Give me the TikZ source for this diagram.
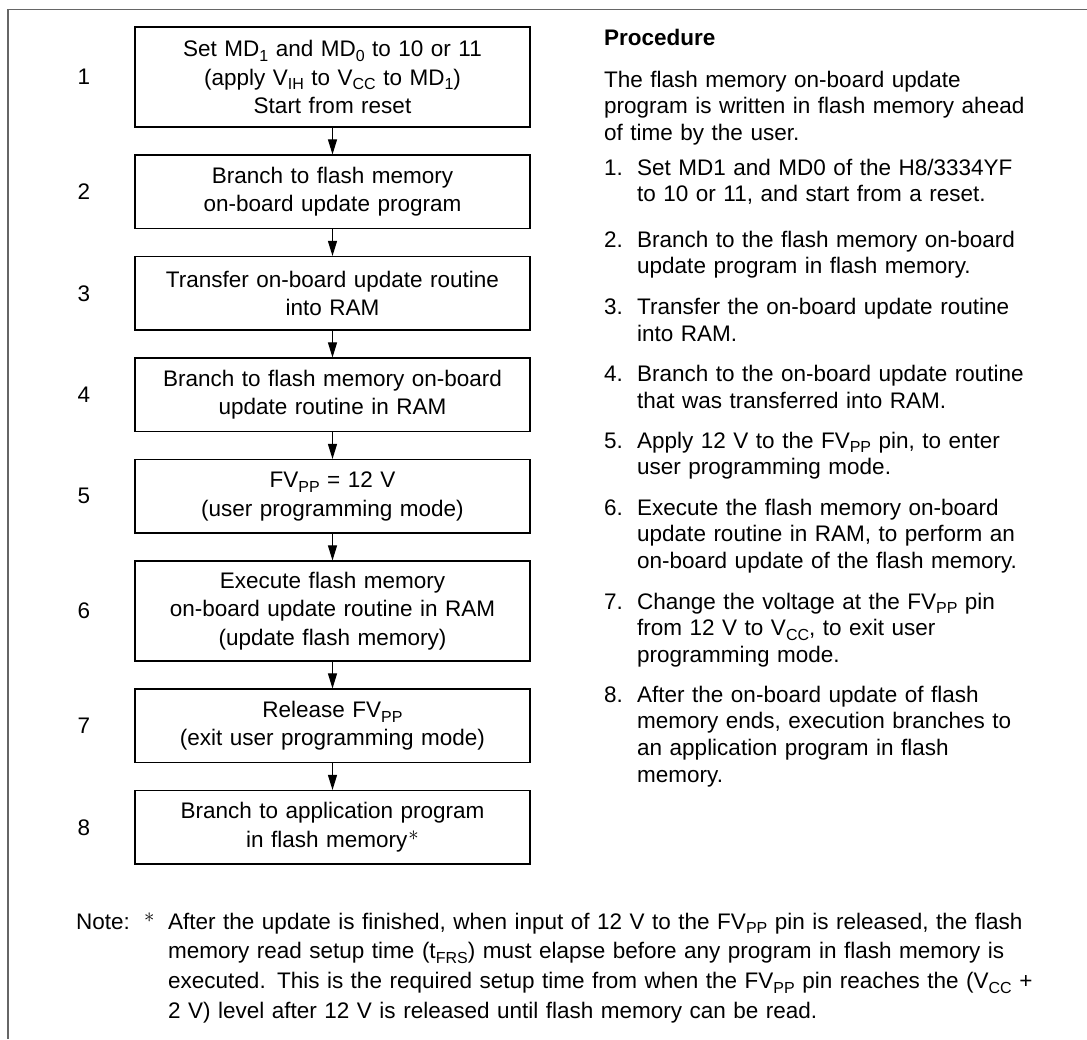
\documentclass[tikz,border=0pt]{standalone}
\usepackage{fontspec}
\setmainfont{Liberation Sans}
\usetikzlibrary{arrows.meta}
\newcommand\sbx[1]{\raisebox{-0.22em}{\fontsize{16}{16}\selectfont #1}}
\newcommand\starsup{\raisebox{6.5pt}{\fontsize{21}{21}\selectfont$\ast$}}
\begin{document}
\begin{tikzpicture}[x=1pt,y=-1pt,
  every node/.style={font=\fontsize{22.5}{28.5}\selectfont, inner sep=0pt},
  flowbox/.style={draw, line width=1.1pt, align=center, text width=380pt, inner xsep=7.5pt, minimum height=73.5pt},
  tallbox/.style={minimum height=100pt},
  rtext/.style={anchor=base west, align=left, text width=450pt, font=\fontsize{22.5}{26.7}\selectfont},
  rnum/.style={anchor=base west, font=\fontsize{22.5}{26.7}\selectfont},
  flowarrow/.style={line width=1pt, -{Triangle[length=15pt,width=9pt]}},
  framecol/.style={draw=black!60, line width=1.8pt}
]
\useasboundingbox (0,0) rectangle (1087,1039);
\draw[framecol] (1087,9.5) -- (8,9.5) -- (8,1039);

% flow boxes
\node[flowbox, tallbox] (b1) at (332.5,77) {Set MD\sbx{1} and MD\sbx{0} to 10 or 11\\(apply V\sbx{IH} to V\sbx{CC} to MD\sbx{1})\\Start from reset};
\node[flowbox] (b2) at (332.5,191.75) {Branch to flash memory\\on-board update program};
\node[flowbox] (b3) at (332.5,293.25) {Transfer on-board update routine\\into RAM};
\node[flowbox] (b4) at (332.5,394.75) {Branch to flash memory on-board\\update routine in RAM};
\node[flowbox] (b5) at (332.5,496.25) {FV\sbx{PP} = 12 V\\(user programming mode)};
\node[flowbox, tallbox] (b6) at (332.5,611) {Execute flash memory\\on-board update routine in RAM\\(update flash memory)};
\node[flowbox] (b7) at (332.5,725.75) {Release FV\sbx{PP}\\(exit user programming mode)};
\node[flowbox] (b8) at (332.5,827.25) {Branch to application program\\in flash memory\kern1pt\starsup};

% step numbers
\node (n1) at (84,77) {1};
\node (n2) at (84,191.75) {2};
\node (n3) at (84,293.25) {3};
\node (n4) at (84,394.75) {4};
\node (n5) at (84,496.25) {5};
\node (n6) at (84,611) {6};
\node (n7) at (84,725.75) {7};
\node (n8) at (84,827.25) {8};

% arrows
\draw[flowarrow] (b1) -- (b2);
\draw[flowarrow] (b2) -- (b3);
\draw[flowarrow] (b3) -- (b4);
\draw[flowarrow] (b4) -- (b5);
\draw[flowarrow] (b5) -- (b6);
\draw[flowarrow] (b6) -- (b7);
\draw[flowarrow] (b7) -- (b8);

% procedure text
\node[rnum] (ptitle) at (604,45) {\textbf{Procedure}};
\node[rtext] (pintro) at (604,87) {The flash memory on-board update\\program is written in flash memory ahead\\of time by the user.};
\node[rnum] (i1n) at (604,175) {1.};
\node[rtext] (i1) at (637,175) {Set MD1 and MD0 of the H8/3334YF\\to 10 or 11, and start from a reset.};
\node[rnum] (i2n) at (604,247) {2.};
\node[rtext] (i2) at (637,247) {Branch to the flash memory on-board\\update program in flash memory.};
\node[rnum] (i3n) at (604,314.5) {3.};
\node[rtext] (i3) at (637,314.5) {Transfer the on-board update routine\\into RAM.};
\node[rnum] (i4n) at (604,381.5) {4.};
\node[rtext] (i4) at (637,381.5) {Branch to the on-board update routine\\that was transferred into RAM.};
\node[rnum] (i5n) at (604,448) {5.};
\node[rtext] (i5) at (637,448) {Apply 12 V to the FV\sbx{PP} pin, to enter\\user programming mode.};
\node[rnum] (i6n) at (604,515) {6.};
\node[rtext] (i6) at (637,515) {Execute the flash memory on-board\\update routine in RAM, to perform an\\on-board update of the flash memory.};
\node[rnum] (i7n) at (604,609) {7.};
\node[rtext] (i7) at (637,609) {Change the voltage at the FV\sbx{PP} pin\\from 12 V to V\sbx{CC}, to exit user\\programming mode.};
\node[rnum] (i8n) at (604,702) {8.};
\node[rtext] (i8) at (637,702) {After the on-board update of flash\\memory ends, execution branches to\\an application program in flash\\memory.};

% note
\node[anchor=base west] (notelbl) at (76,929) {Note:};
\node[anchor=base west] (notestar) at (144,929) {\starsup};
\node[anchor=base west, align=left, text width=910pt, font=\fontsize{22.5}{29.7}\selectfont] (notetxt) at (168,929) {After the update is finished, when input of 12 V to the FV\sbx{PP} pin is released, the flash\\memory read setup time (t\sbx{FRS}) must elapse before any program in flash memory is\\executed. This is the required setup time from when the FV\sbx{PP} pin reaches the (V\sbx{CC} +\\2 V) level after 12 V is released until flash memory can be read.};
\end{tikzpicture}
\end{document}
